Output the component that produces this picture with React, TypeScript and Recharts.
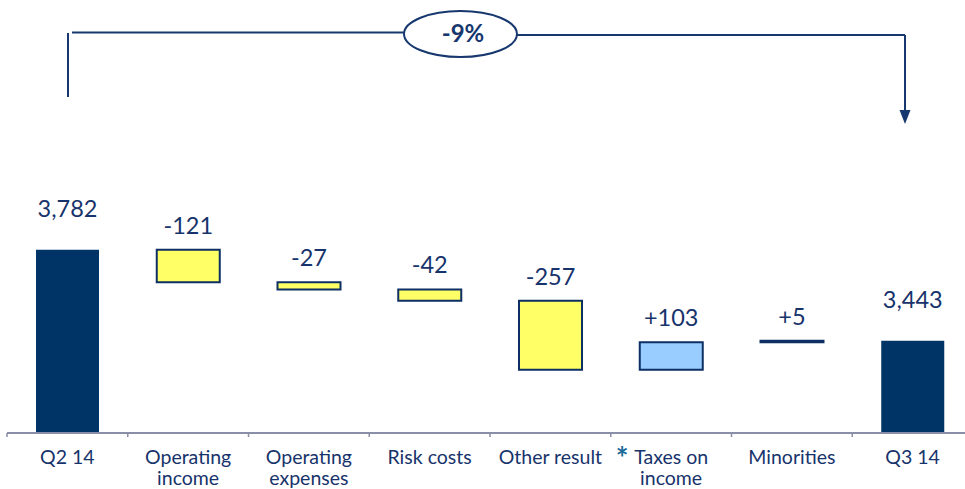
import React from 'react';
import { BarChart, Bar, XAxis, YAxis, Cell, LabelList } from 'recharts';

const categories = [
  'Q2 14',
  'Operating income',
  'Operating expenses',
  'Risk costs',
  'Other result',
  'Taxes on income',
  'Minorities',
  'Q3 14',
];
const tickLabels: string[][] = [
  ['Q2 14'],
  ['Operating', 'income'],
  ['Operating', 'expenses'],
  ['Risk costs'],
  ['Other result'],
  ['Taxes on', 'income'],
  ['Minorities'],
  ['Q3 14'],
];
const values = [3782, -121, -27, -42, -257, 103, 5, 3443];
const kinds = ['total', 'delta', 'delta', 'delta', 'delta', 'delta', 'delta', 'total'];
const valueLabels = ['3,782', '-121', '-27', '-42', '-257', '+103', '+5', '3,443'];
const changeLabel = '-9%';
const footnoteCategory = 'Taxes on income';

const AXIS_MIN = 3100;
const AXIS_MAX = 4700;

const CHART_W = 973;
const CHART_H = 489;
const MARGIN = { top: 3, right: 0, left: 7, bottom: 0 };

const NAVY = '#003366';
const TEXT = '#17336b';
const OUTLINE = '#0d2f63';
const FONT = 'Lato, "Open Sans", sans-serif';

let running = 0;
const data = categories.map((name, i) => {
  let range: [number, number];
  if (kinds[i] === 'total') {
    running = values[i];
    range = [AXIS_MIN, values[i]];
  } else {
    const start = running;
    const end = running + values[i];
    running = end;
    range = [Math.min(start, end), Math.max(start, end)];
  }
  return { name, range, label: valueLabels[i], kind: kinds[i], value: values[i] };
});

const bandWidth = (CHART_W - MARGIN.left - MARGIN.right) / categories.length;

const fillFor = (d: any) => (d.kind === 'total' ? NAVY : d.value < 0 ? '#ffff66' : '#99ccff');

const CategoryTick = (props: any) => {
  const { x, y, payload } = props;
  const idx = categories.indexOf(payload.value);
  const lines = tickLabels[idx] || [payload.value];
  return (
    <g>
      <line x1={x - bandWidth / 2} x2={x - bandWidth / 2} y1={y} y2={y + 4} stroke="#8a8ea6" strokeWidth={1.5} />
      {lines.map((ln, k) => (
        <text
          key={k}
          x={x}
          y={y + 31 + k * 21}
          textAnchor="middle"
          fill={TEXT}
          fontSize={19.5}
          fontFamily={FONT}
        >
          {ln}
        </text>
      ))}
      {payload.value === footnoteCategory && (
        <text x={x - 49} y={y + 36} textAnchor="middle" fill="#1a6a9a" fontSize={30} fontWeight="bold" fontFamily={FONT}>
          *
        </text>
      )}
    </g>
  );
};

const ValueLabel = (props: any) => {
  const vb = props.viewBox || {};
  const x = props.x ?? vb.x;
  const y = props.y ?? vb.y;
  const width = props.width ?? vb.width;
  const value = props.value;
  const idx = valueLabels.indexOf(value);
  const offset = kinds[idx] === 'total' ? 33 : 16;
  return (
    <text
      x={x + width / 2}
      y={y - offset}
      textAnchor="middle"
      fill={TEXT}
      fontSize={23.5}
      fontFamily={FONT}
    >
      {value}
    </text>
  );
};

export default function App() {
  return (
    <div style={{ position: 'absolute', left: 0, top: 0, width: 965, height: 489, overflow: 'hidden', background: '#fff' }}>
      <BarChart width={CHART_W} height={CHART_H} data={data} margin={MARGIN}>
        <YAxis hide domain={[AXIS_MIN, AXIS_MAX]} allowDataOverflow />
        <XAxis
          dataKey="name"
          interval={0}
          tickLine={false}
          tickSize={0}
          tickMargin={0}
          height={56}
          axisLine={{ stroke: '#8a8ea6', strokeWidth: 2 }}
          tick={<CategoryTick />}
        />
        <Bar dataKey="range" barSize={63} isAnimationActive={false}>
          {data.map((d, i) => (
            <Cell
              key={i}
              fill={fillFor(d)}
              stroke={d.kind === 'total' ? 'none' : OUTLINE}
              strokeWidth={d.kind === 'total' ? 0 : 2}
            />
          ))}
          <LabelList dataKey="label" content={<ValueLabel />} />
        </Bar>
      </BarChart>
      <svg
        width={965}
        height={489}
        style={{ position: 'absolute', left: 0, top: 0, pointerEvents: 'none' }}
      >
        <g stroke="#17386f" strokeWidth={2} fill="none">
          <line x1={68} y1={97} x2={68} y2={33} />
          <line x1={72} y1={32.5} x2={404} y2={32.5} />
          <line x1={517} y1={35} x2={905} y2={35} />
          <line x1={905} y1={35} x2={905} y2={112} />
        </g>
        <polygon points="899.5,110 910.5,110 905,124" fill="#17386f" />
        <ellipse cx={460.5} cy={34} rx={56.5} ry={23} fill="#fff" stroke="#17386f" strokeWidth={2} />
        <text
          x={463}
          y={36}
          textAnchor="middle"
          dominantBaseline="middle"
          fill="#17386f"
          fontSize={24}
          fontWeight="bold"
          fontFamily={FONT}
        >
          {changeLabel}
        </text>
      </svg>
    </div>
  );
}
